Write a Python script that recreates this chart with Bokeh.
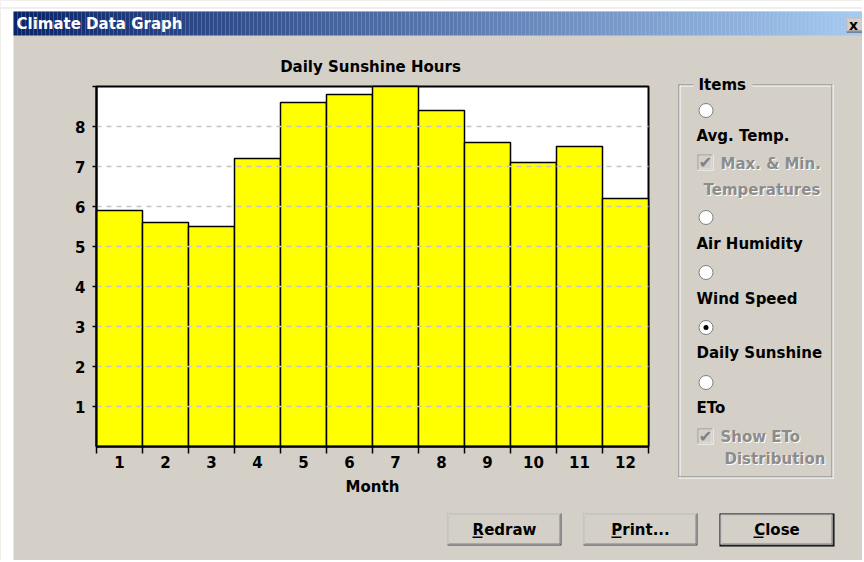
import math
from bokeh.plotting import figure
from bokeh.models import Range1d, FixedTicker, Label
from bokeh.embed import file_html
from bokeh.resources import INLINE

# ---------------- data ----------------
months = list(range(1, 13))
sunshine = [5.9, 5.6, 5.5, 7.2, 8.6, 8.8, 9.0, 8.4, 7.6, 7.1, 7.5, 6.2]
y_ticks = [1, 2, 3, 4, 5, 6, 7, 8, 9]
grid_ticks = [1, 2, 3, 4, 5, 6, 7, 8]
chart_title = "Daily Sunshine Hours"
x_title = "Month"
window_title = "Climate Data Graph"
items_title = "Items"
radio_items = ["Avg. Temp.", "Air Humidity", "Wind Speed", "Daily Sunshine", "ETo"]
selected_item = "Daily Sunshine"
buttons = ["Redraw", "Print...", "Close"]

# ---------------- layout (page pixels) ----------------
W, H = 862, 560
FL, FR, FT, FB = 96, 648, 86, 446          # chart frame in page pixels
XMIN, XMAX = months[0] - 0.5, months[-1] + 0.5
YMIN, YMAX = 0, y_ticks[-1]
KX = (FR - FL) / (XMAX - XMIN)
KY = (FB - FT) / (YMAX - YMIN)
GRAY = "#D4D0C8"
FONT = "DejaVu Sans"


def X(px):
    return XMIN + (px - FL) / KX


def Y(py):
    return YMIN + (FB - py) / KY


p = figure(width=W, height=H, x_range=Range1d(X(0), X(W)), y_range=Range1d(Y(H), Y(0)),
           output_backend="svg", toolbar_location=None, min_border=0)
p.background_fill_color = GRAY
p.border_fill_color = GRAY
p.outline_line_color = None
p.xgrid.visible = False
p.ygrid.visible = False

# ---------------- window decoration (screen-pixel rectangles) ----------------
R = dict(left=[], right=[], top=[], bottom=[], color=[])


def rect(x0, y0, x1, y1, color):
    R["left"].append(X(x0)); R["right"].append(X(x1))
    R["top"].append(Y(y0)); R["bottom"].append(Y(y1))
    R["color"].append(color)


def bevel_button(x0, y0, x1, y1, default=False):
    if default:
        rect(x0, y0, x1, y1, "black")
        x0, y0, x1, y1 = x0 + 1, y0 + 1, x1 - 1, y1 - 1
    rect(x0, y0, x1, y1, "#404040")
    rect(x0, y0, x1 - 1, y1 - 1, "white")
    rect(x0 + 1, y0 + 1, x1 - 1, y1 - 1, "#808080")
    rect(x0 + 1, y0 + 1, x1 - 2, y1 - 2, GRAY)


labels = []


def label(x, y, text, color="black", align="left", size="15px", baseline="middle"):
    labels.append(Label(x=X(x), y=Y(y), text=text, text_color=color, text_align=align,
                        text_baseline=baseline, text_font=FONT, text_font_style="bold",
                        text_font_size=size))


# white page area left / top of the dialog
rect(0, 0, 13, H, "white")
rect(0, 0, W, 11, "white")
rect(0, 7, W, 8, "#E0E0E0")

# title bar gradient
c0, c1 = (10, 36, 106), (166, 202, 240)
step = 4
xs_ = list(range(13, W, step))
for i, x in enumerate(xs_):
    t = i / (len(xs_) - 1)
    col = "#%02x%02x%02x" % tuple(int(round(a + (b - a) * t)) for a, b in zip(c0, c1))
    rect(x, 11, x + step, 35, col)
label(16, 23, window_title, color="white", size="15px")

# close button
bevel_button(846, 17, W + 4, 32)
label(853, 24, "x", color="black", align="center", size="14px")

# group box "Items" (etched)
rect(678, 84, 832, 85, "#808080")
rect(679, 85, 833, 86, "white")
rect(678, 84, 679, 477, "#808080")
rect(679, 85, 680, 478, "white")
rect(831, 84, 832, 477, "#808080")
rect(832, 84, 833, 478, "white")
rect(678, 476, 832, 477, "#808080")
rect(678, 477, 833, 478, "white")
rect(693, 76, 752, 92, GRAY)
label(698, 84, items_title)


def checkbox(x0, y0):
    rect(x0, y0, x0 + 16, y0 + 16, "white")
    rect(x0, y0, x0 + 15, y0 + 15, "#808080")
    rect(x0 + 1, y0 + 1, x0 + 15, y0 + 15, "#E8E6E0")
    rect(x0 + 1, y0 + 1, x0 + 14, y0 + 14, GRAY)
    label(x0 + 8, y0 + 8, "\u2714", color="#808080", align="center", size="16px")


def disabled(x, y, text):
    label(x + 1, y + 1, text, color="white")
    label(x, y, text, color="#8C8C8C")


checkbox(697, 154)
disabled(720, 163, "Max. & Min.")
disabled(703, 189, "Temperatures")
checkbox(697, 428)
disabled(720, 436, "Show ETo")
disabled(724, 458, "Distribution")

radio_y = [110, 217, 272, 327, 382]
label_mid = [135, 243, 298, 352, 407]
for name, lm in zip(radio_items, label_mid):
    label(696, lm, name)

# buttons
btn_boxes = [(447, 513, 561, 545), (583, 513, 697, 545), (719, 513, 834, 546)]
ul_left = [472, 611, 753]
for i, (name, (bx0, by0, bx1, by1)) in enumerate(zip(buttons, btn_boxes)):
    bevel_button(bx0, by0, bx1, by1, default=(name == "Close"))
    label((bx0 + bx1) / 2, 529, name, align="center")
    rect(ul_left[i], 536, ul_left[i] + 10, 537.5, "black")

p.quad(left="left", right="right", top="top", bottom="bottom", fill_color="color",
       line_color=None, source=R)

# radio buttons
p.scatter(x=[X(705.5)] * len(radio_y), y=[Y(v) for v in radio_y], size=14, marker="circle",
          fill_color="white", line_color="#808080", line_width=1)
sel = radio_y[radio_items.index(selected_item)]
p.scatter(x=[X(705.5)], y=[Y(sel)], size=5, marker="circle", fill_color="black", line_color=None)

# ---------------- chart ----------------
p.quad(left=[XMIN], right=[XMAX], bottom=[YMIN], top=[YMAX], fill_color="white",
       line_color="black", line_width=2)
p.vbar(x=months, top=sunshine, width=1, bottom=0, fill_color="#FFFF00",
       line_color="black", line_width=1.5)
p.segment(x0=[XMIN] * len(grid_ticks), x1=[XMAX] * len(grid_ticks), y0=grid_ticks, y1=grid_ticks,
          line_color="#C4C4C4", line_width=1.5, line_dash="5 5")

xa = p.xaxis[0]
xa.fixed_location = YMIN
xa.bounds = (XMIN, XMAX)
xa.ticker = FixedTicker(ticks=months, minor_ticks=[m - 0.5 for m in months] + [XMAX])
xa.major_tick_out = 0
xa.major_tick_in = 0
xa.minor_tick_out = 7
xa.minor_tick_in = 0
xa.minor_tick_line_color = "black"
xa.minor_tick_line_width = 1.5
xa.axis_line_color = "black"
xa.axis_line_width = 2
xa.major_label_standoff = 2
xa.major_label_text_font = FONT
xa.major_label_text_font_style = "bold"
xa.major_label_text_font_size = "15px"
xa.major_label_text_color = "black"

ya = p.yaxis[0]
ya.fixed_location = XMIN
ya.bounds = (YMIN, YMAX)
ya.ticker = FixedTicker(ticks=y_ticks, minor_ticks=[])
ya.major_label_overrides = {9: ""}
ya.major_tick_out = 4
ya.major_tick_in = 0
ya.major_tick_line_color = "black"
ya.major_tick_line_width = 1.5
ya.minor_tick_out = 0
ya.minor_tick_in = 0
ya.axis_line_color = "black"
ya.axis_line_width = 2
ya.major_label_standoff = 7
ya.major_label_text_font = FONT
ya.major_label_text_font_style = "bold"
ya.major_label_text_font_size = "15px"
ya.major_label_text_color = "black"

label((FL + FR) / 2 - 2, 66, chart_title, align="center")
label((FL + FR) / 2, 486, x_title, align="center")

for lb in labels:
    p.add_layout(lb)

open("out.html", "w").write(file_html(p, INLINE))
